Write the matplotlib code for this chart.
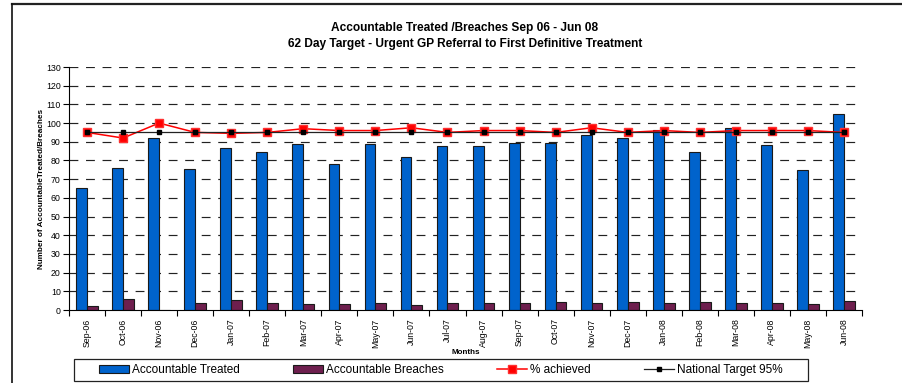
import matplotlib
matplotlib.use("Agg")
import matplotlib.pyplot as plt
from matplotlib.lines import Line2D
from matplotlib.patches import Rectangle
import numpy as np

plt.rcParams["font.family"] = ["Liberation Sans", "DejaVu Sans"]

months = ["Sep-06", "Oct-06", "Nov-06", "Dec-06", "Jan-07", "Feb-07", "Mar-07",
          "Apr-07", "May-07", "Jun-07", "Jul-07", "Aug-07", "Sep-07", "Oct-07",
          "Nov-07", "Dec-07", "Jan-08", "Feb-08", "Mar-08", "Apr-08", "May-08",
          "Jun-08"]
treated = [65.5, 76, 92, 75.5, 86.5, 84.5, 89, 78, 89, 82, 87.5,
           88, 89.5, 89.5, 93.5, 92, 96.5, 84.5, 97.5, 88.5, 75, 105]
breaches = [2, 6, 0, 3.5, 5.5, 4, 3, 3, 4, 2.5, 4,
            3.5, 4, 4.5, 3.5, 4.5, 4, 4.5, 3.5, 3.5, 3, 5]
achieved = [95, 92, 100, 95, 94.5, 95, 97, 96, 96, 97.5, 95,
            96, 96, 95, 97.5, 95, 96, 95, 96, 96, 96, 95]
target = [95] * len(months)

x = np.arange(len(months))
bw = 0.3

fig = plt.figure(figsize=(9.02, 3.83), dpi=100, facecolor="white")
ax = fig.add_axes([69 / 902, 1 - 310 / 383, (862 - 69) / 902, (310 - 67) / 383])

for y in range(10, 140, 10):
    ax.axhline(y, color="#222222", linewidth=0.85, dashes=(7.5, 6.5), zorder=0)

b1 = ax.bar(x - bw / 2, treated, bw, color="#0063CC", edgecolor="#1a1a1a",
            linewidth=0.8, label="Accountable Treated", zorder=2)
b2 = ax.bar(x + bw / 2, breaches, bw, color="#6E1F4E", edgecolor="#1a1a1a",
            linewidth=0.8, label="Accountable Breaches", zorder=2)
l1, = ax.plot(x, achieved, color="#FF0000", linewidth=1.1, marker="s",
              markersize=6.3, markerfacecolor="#FF0000", markeredgecolor="#FF3030",
              label="% achieved", zorder=4)
l2, = ax.plot(x, target, color="#222222", linewidth=0.9, marker="s",
              markersize=3.2, markerfacecolor="black", markeredgecolor="black",
              label="National Target 95%", zorder=5)

ax.set_xlim(-0.5, len(months) - 0.5)
ax.set_ylim(0, 130)
ax.set_yticks(range(0, 140, 10))
ax.set_xticks(x)
ax.set_xticklabels(months, rotation=90, fontsize=6.3)
ax.set_xticks(np.arange(len(months) + 1) - 0.5, minor=True)
ax.tick_params(axis="x", which="major", length=0, pad=6)
ax.tick_params(axis="x", which="minor", length=4, width=0.8, direction="out")
ax.tick_params(axis="y", length=4, width=0.8, labelsize=6.3, pad=2)
for s in ["top", "right"]:
    ax.spines[s].set_visible(False)
for s in ["left", "bottom"]:
    ax.spines[s].set_linewidth(0.8)

fig.text(465 / 902, 1 - 28 / 383, "Accountable Treated /Breaches Sep 06 - Jun 08",
         ha="center", va="center", fontsize=8.6, fontweight="bold")
fig.text(465 / 902, 1 - 44 / 383,
         "62 Day Target - Urgent GP Referral to First Definitive Treatment",
         ha="center", va="center", fontsize=8.6, fontweight="bold")
fig.text(42 / 902, 1 - 188.5 / 383, "Number of AccountableTreated/Breaches",
         rotation=90, ha="center", va="center", fontsize=5.9, fontweight="bold")
fig.text(466 / 902, 1 - 353 / 383, "Months", ha="center", va="center",
         fontsize=5.8, fontweight="bold")

# outer chart frame
fig.add_artist(Line2D([12 / 902, 1], [1 - 4 / 383, 1 - 4 / 383],
                      transform=fig.transFigure, color="#222222", linewidth=1.6))
fig.add_artist(Line2D([12 / 902, 12 / 902], [0, 1 - 4 / 383],
                      transform=fig.transFigure, color="#111111", linewidth=1.2))

# legend box
fig.add_artist(Rectangle((74 / 902, 1 - 381 / 383), (808 - 74) / 902, 22 / 383,
                         transform=fig.transFigure, facecolor="white",
                         edgecolor="#222222", linewidth=0.9, zorder=1))
leg = fig.legend(handles=[b1, b2, l1, l2], loc="center", ncol=4,
                 bbox_to_anchor=(441 / 902, 1 - 370 / 383), frameon=False,
                 fontsize=8.5, handlelength=2.5, handleheight=0.6,
                 handletextpad=0.3, columnspacing=4.5)
leg.set_zorder(3)

fig.savefig("out.png", dpi=100, facecolor="white")
